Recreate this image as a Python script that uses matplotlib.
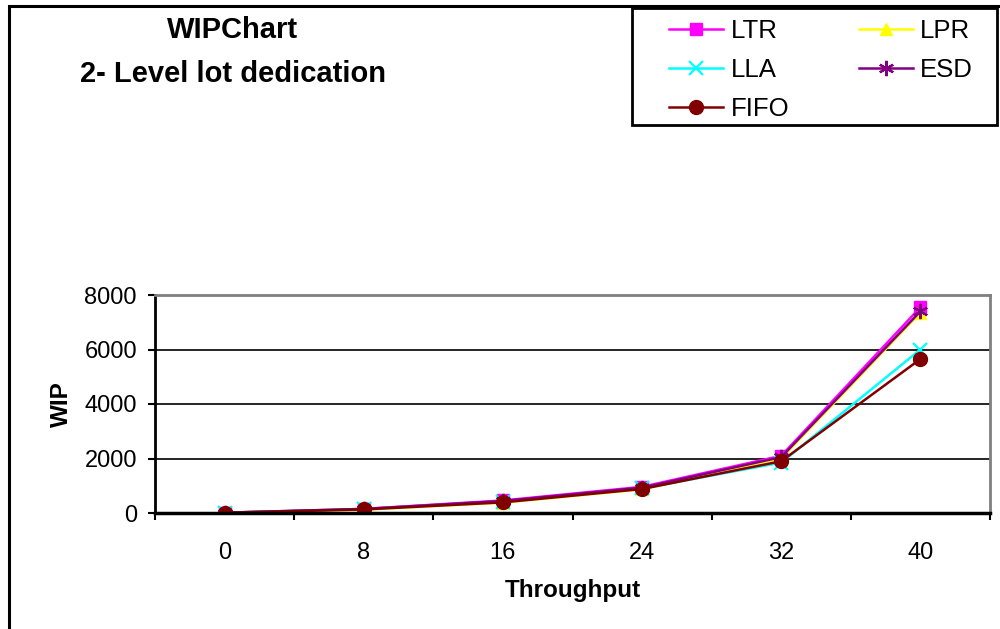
import matplotlib
matplotlib.use("Agg")
import matplotlib.pyplot as plt
from matplotlib.patches import Rectangle

plt.rcParams['font.family'] = ['Liberation Sans', 'DejaVu Sans']

throughput = ['0', '8', '16', '24', '32', '40']
ltr = [10, 150, 460, 960, 2100, 7550]
lpr = [5, 120, 380, 870, 2000, 7350]
lla = [15, 140, 420, 900, 1850, 6000]
esd = [10, 150, 440, 930, 2050, 7400]
fifo = [10, 130, 390, 880, 1900, 5650]

fig = plt.figure(figsize=(10, 6.29), dpi=100)
W, H = 1000, 629

# outer chart frame (runs off the right/bottom edge)
fig.patches.append(Rectangle((9 / W, -0.05), 1.1, 1 - 6 / H + 0.05,
                             transform=fig.transFigure, fill=False,
                             edgecolor='black', linewidth=2.2, zorder=0))
# legend box
fig.patches.append(Rectangle((632 / W, 1 - 125 / H), (997 - 632) / W, (125 - 8) / H,
                             transform=fig.transFigure, fill=True, facecolor='white',
                             edgecolor='black', linewidth=2, zorder=1))

ax = fig.add_axes([155 / W, 1 - 513 / H, (990 - 155) / W, (513 - 295) / H])
x = list(range(len(throughput)))

h_ltr, = ax.plot(x, ltr, color='#ff00ff', marker='s', markersize=8,
                 markerfacecolor='#ff00ff', markeredgecolor='#ff00ff', lw=1.8, label='LTR')
h_lpr, = ax.plot(x, lpr, color='#ffff00', marker='^', markersize=9, lw=1.8, label='LPR')
h_lla, = ax.plot(x, lla, color='#00ffff', marker='x', markersize=10, mew=1.6, lw=1.8, label='LLA')
h_esd, = ax.plot(x, esd, color='#800080', marker=(6, 2, 0), markersize=11, mew=1.6, lw=1.8, label='ESD')
h_fifo, = ax.plot(x, fifo, color='#800000', marker='o', markersize=10, lw=1.8, label='FIFO')

ax.set_xlim(-0.5, len(throughput) - 0.5)
ax.set_ylim(0, 8000)
ax.set_yticks([0, 2000, 4000, 6000, 8000])
ax.set_xticks(x)
ax.set_xticklabels(throughput)
ax.set_xticks([i - 0.5 for i in range(len(throughput) + 1)], minor=True)
ax.tick_params(axis='x', which='major', length=0, pad=21, labelsize=17)
ax.tick_params(axis='x', which='minor', length=5, width=1.5, direction='out')
ax.tick_params(axis='y', length=5, width=1.5, direction='out', labelsize=17, pad=8)
ax.grid(axis='y', color='black', linewidth=1.2)
ax.set_axisbelow(True)

ax.spines['left'].set_linewidth(2)
ax.spines['bottom'].set_linewidth(2.5)
ax.spines['top'].set_color('#808080')
ax.spines['right'].set_color('#808080')
ax.spines['top'].set_linewidth(2)
ax.spines['right'].set_linewidth(2)

ax.set_xlabel('Throughput', fontsize=17.5, fontweight='bold', labelpad=11)
ax.set_ylabel('WIP', fontsize=17.5, fontweight='bold', labelpad=8)

fig.text(233 / W, 1 - 52 / H, 'WIPChart\n2- Level lot dedication', ha='center', va='center',
         fontsize=21, fontweight='bold', linespacing=1.7)

leg = fig.legend(handles=[h_ltr, h_lla, h_fifo, h_lpr, h_esd], ncol=2,
                 loc='upper left', bbox_to_anchor=(669 / W, 1 - 19 / H),
                 frameon=False, fontsize=18.5, handlelength=2.1, handletextpad=0.3,
                 labelspacing=0.58, borderpad=0, columnspacing=2.7, borderaxespad=0)
leg.set_zorder(5)

fig.savefig('out.png', dpi=100)
